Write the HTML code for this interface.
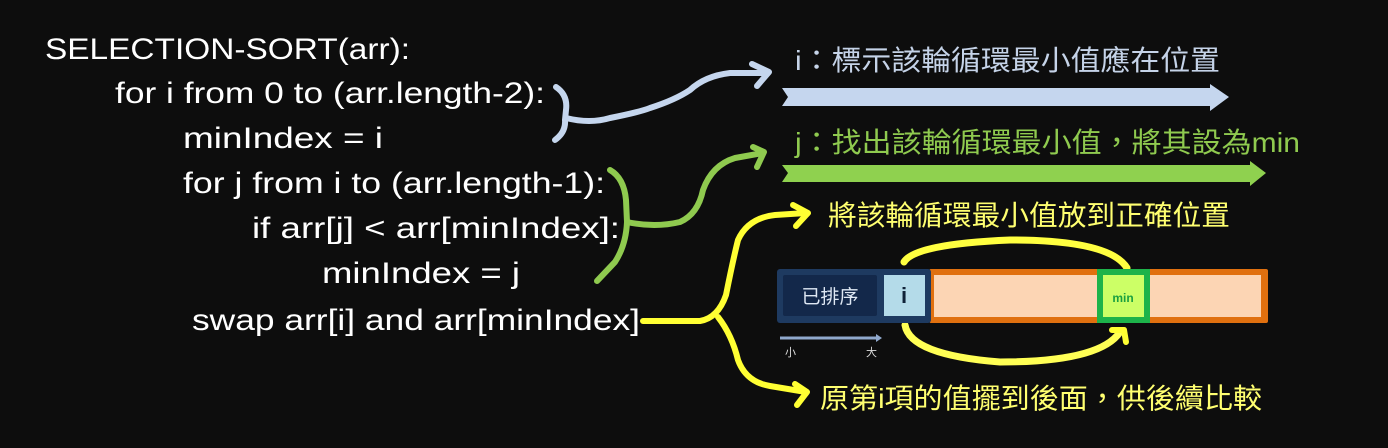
<!DOCTYPE html>
<html><head><meta charset="utf-8"><style>
html,body{margin:0;padding:0;background:#0d0d0d;}
svg{display:block;}
.c{font-family:"Liberation Sans","Noto Sans CJK TC",sans-serif;}
</style></head><body>
<svg width="1388" height="448" viewBox="0 0 1388 448" xmlns="http://www.w3.org/2000/svg" class="c">
<rect width="1388" height="448" fill="#0d0d0d"/>
<g fill="#ffffff" font-size="30">
<text x="45" y="59" textLength="365" lengthAdjust="spacingAndGlyphs">SELECTION-SORT(arr):</text>
<text x="115" y="103" textLength="430" lengthAdjust="spacingAndGlyphs">for i from 0 to (arr.length-2):</text>
<text x="183" y="148" textLength="200" lengthAdjust="spacingAndGlyphs">minIndex = i</text>
<text x="183" y="193" textLength="422" lengthAdjust="spacingAndGlyphs">for j from i to (arr.length-1):</text>
<text x="252" y="238" textLength="368" lengthAdjust="spacingAndGlyphs">if  arr[j] &lt; arr[minIndex]:</text>
<text x="322" y="283" textLength="198" lengthAdjust="spacingAndGlyphs">minIndex = j</text>
<text x="192" y="330" textLength="448" lengthAdjust="spacingAndGlyphs">swap arr[i] and arr[minIndex]</text>
</g>
<!-- right texts -->
<text x="795" y="70" font-size="28" fill="#c5d3e8" textLength="425" lengthAdjust="spacingAndGlyphs">i：標示該輪循環最小值應在位置</text>
<text x="795" y="152" font-size="28" fill="#8fca4f" textLength="505" lengthAdjust="spacingAndGlyphs">j：找出該輪循環最小值，將其設為min</text>
<text x="828" y="225" font-size="28" fill="#ffff70" textLength="402" lengthAdjust="spacingAndGlyphs">將該輪循環最小值放到正確位置</text>
<text x="820" y="408" font-size="28" fill="#ffff70" textLength="442" lengthAdjust="spacingAndGlyphs">原第i項的值擺到後面，供後續比較</text>
<!-- big arrows -->
<polygon points="782,88 1210,88 1210,84 1229,97 1210,111 1210,106 782,106 788,97" fill="#c5d6ee"/>
<polygon points="782,165 1250,165 1250,161 1266,173 1250,186 1250,182 782,182 788,173" fill="#8fd14f"/>
<!-- blue brace connector -->
<g fill="none" stroke="#c5d6ee" stroke-width="6" stroke-linecap="round" stroke-linejoin="round">
<path d="M556,87 Q568,95 566,110 L565,120 Q566,132 555,140"/>
<path d="M566,118 Q590,124 610,118 Q640,112 650,108 Q675,100 690,90 Q705,76 730,73 L768,73"/>
<path d="M752,64 L769,72 L757,86"/>
</g>
<!-- green brace connector -->
<g fill="none" stroke="#8fca4f" stroke-width="6" stroke-linecap="round" stroke-linejoin="round">
<path d="M610,170 Q624,178 626,200 L627,222 Q626,245 615,262 L597,281"/>
<path d="M627,222 Q655,228 680,222 Q698,214 703,190 Q712,165 735,158 L763,153"/>
<path d="M753,147 L764,152 L757,167"/>
</g>
<!-- yellow connectors -->
<g fill="none" stroke="#ffff33" stroke-width="6" stroke-linecap="round" stroke-linejoin="round">
<path d="M643,321 L700,321 Q718,318 726,295 Q733,260 738,240 Q748,218 775,215 L806,213"/>
<path d="M793,205 L808,213 L796,226"/>
<path d="M718,317 Q732,335 738,360 Q746,382 770,386 L806,392"/>
<path d="M795,384 L807,392 L797,405"/>
<path d="M904,262 Q915,244 1010,240 Q1110,240 1127,268" stroke="#ffff40" stroke-width="7"/>
<path d="M905,325 Q910,355 1000,362 Q1100,362 1120,332" stroke="#ffff55" stroke-width="7"/>
<path d="M1112,330 L1124,330 L1126,342"/>
</g>
<!-- bar -->
<rect x="929" y="269" width="339" height="54" fill="#e0700f" rx="2"/>
<rect x="934" y="275" width="327" height="42" fill="#fcd5b4"/>
<rect x="777" y="269" width="154" height="54" fill="#1e3a60" rx="3"/>
<rect x="783" y="275" width="94" height="41" fill="#13284a" rx="2"/>
<rect x="884" y="275" width="41" height="41" fill="#b4dbe9"/>
<text x="830" y="303" font-size="19" fill="#dfe8f4" text-anchor="middle">已排序</text>
<text x="904" y="303" font-size="22" fill="#0f2238" text-anchor="middle" font-weight="bold">i</text>
<rect x="1097" y="269" width="53" height="54" fill="#1db34a"/>
<rect x="1103" y="275" width="41" height="42" fill="#ccff66"/>
<text x="1123" y="302" font-size="12" fill="#1aa040" text-anchor="middle" font-weight="bold">min</text>
<!-- small arrow -->
<line x1="780" y1="338" x2="878" y2="338" stroke="#8fa8cc" stroke-width="3"/>
<polygon points="876,334 882,338 876,342" fill="#8fa8cc"/>
<text x="785" y="356" font-size="11" fill="#dddddd">小</text>
<text x="866" y="356" font-size="11" fill="#dddddd">大</text>
</svg>
</body></html>
